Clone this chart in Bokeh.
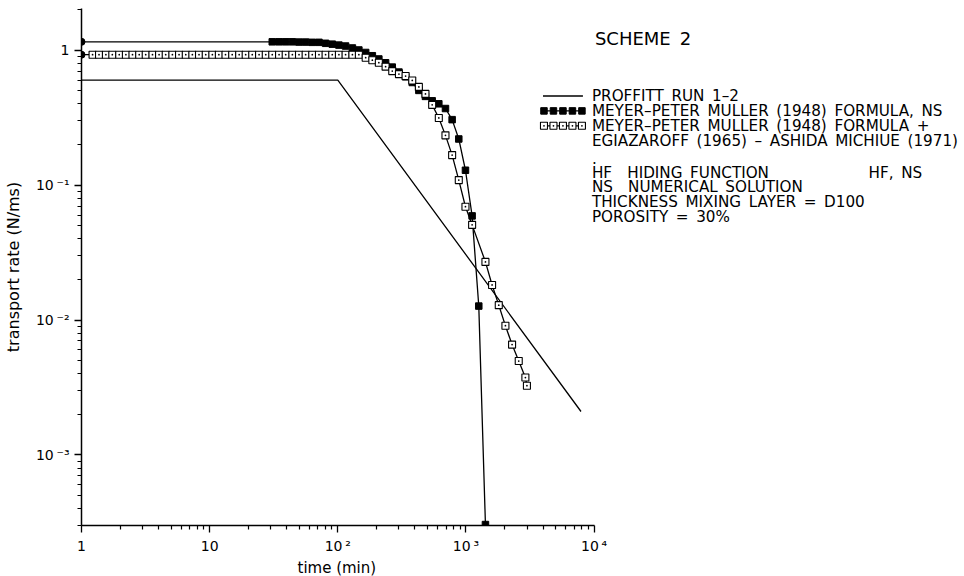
from bokeh.plotting import figure
from bokeh.models import FixedTicker, Range1d, LinearScale, Label, Title
from bokeh.embed import file_html
from bokeh.resources import INLINE

# ---------------- data ----------------
x_ticks = [1, 10, 100, 1000, 10000]
x_tick_labels = ["1", "10", "10\u2009\u00b2", "10\u2009\u00b3", "10\u2009\u2074"]
y_ticks = [0.001, 0.01, 0.1, 1]
y_tick_labels = ["10\u2009\u207b\u00b3", "10\u2009\u207b\u00b2",
                 "10\u2009\u207b\u00b9", "1"]

proffitt_time = [1, 100, 7900]
proffitt_rate = [0.60, 0.60, 0.0021]

mpm_time = [1, 30.8, 34.8, 39.2, 44.2, 49.8, 56.1, 63.2, 71.3, 80.3, 90.5,
            102, 115, 130, 146, 165, 186, 209, 236, 266, 300, 338, 381,
            429, 483, 545, 614, 692, 780, 879, 991, 1117, 1259, 1419]
mpm_rate = [1.155, 1.155, 1.155, 1.155, 1.155, 1.15, 1.15, 1.145, 1.145,
            1.126, 1.11, 1.092, 1.075, 1.04, 1.005, 0.963, 0.911, 0.862,
            0.808, 0.750, 0.689, 0.635, 0.577, 0.504, 0.455, 0.422, 0.401,
            0.370, 0.306, 0.220, 0.129, 0.0592, 0.0127, 0.000305]

hf_time = [1, 1.22, 1.37, 1.55, 1.74, 1.97, 2.22, 2.50, 2.82, 3.17, 3.58,
           4.03, 4.54, 5.12, 5.77, 6.51, 7.33, 8.26, 9.32, 10.5, 11.8, 13.3,
           15.0, 17.0, 19.1, 21.5, 24.3, 27.4, 30.8, 34.8, 39.2, 44.2, 49.8,
           56.1, 63.2, 71.3, 80.3, 90.5, 102, 115, 130, 146, 165, 186, 209,
           236, 266, 300, 338, 381, 429, 483, 545, 614, 692, 780, 879, 991,
           1117, 1419, 1599, 1803, 2032, 2290, 2581, 2909, 2990]
hf_rate = [0.927, 0.927, 0.927, 0.927, 0.927, 0.927, 0.927, 0.927, 0.927,
           0.927, 0.927, 0.927, 0.927, 0.927, 0.927, 0.927, 0.927, 0.927,
           0.927, 0.927, 0.927, 0.927, 0.927, 0.927, 0.927, 0.927, 0.927,
           0.927, 0.927, 0.927, 0.927, 0.927, 0.927, 0.927, 0.927, 0.927,
           0.927, 0.927, 0.927, 0.927, 0.927, 0.927,
           0.881, 0.844, 0.809, 0.756, 0.701, 0.666, 0.644, 0.597, 0.535,
           0.475, 0.394, 0.315, 0.234, 0.167, 0.109, 0.0692, 0.0508,
           0.0270, 0.0182, 0.0129, 0.00908, 0.00658, 0.00497, 0.00375,
           0.00326]

legend_labels = ["PROFFITT\u2002RUN\u20021\u20132",
                 "MEYER\u2013PETER\u2002MULLER\u2002(1948)\u2002FORMULA,\u2002NS",
                 "MEYER\u2013PETER\u2002MULLER\u2002(1948)\u2002FORMULA\u2002+",
                 "EGIAZAROFF\u2002(1965)\u2002\u2013\u2002ASHIDA\u2002MICHIUE\u2002(1971)"]
note_labels = [".",
               "HF\u2002\u2002HIDING\u2002FUNCTION",
               "NS\u2002\u2002NUMERICAL\u2002SOLUTION",
               "THICKNESS\u2002MIXING\u2002LAYER\u2002=\u2002D100",
               "POROSITY\u2002=\u200230%"]
title_text = "SCHEME\u20022"
hf_ns_text = "HF,\u2002NS"
x_label = "time (min)"
y_label = "transport rate (N/ms)"

FONT = "DejaVu Sans"

# ---------------- figure ----------------
# frame spans the whole width so that the legend texts are not clipped;
# the x axis itself is bounded to 1 .. 1e4 (one decade = 128.3 px)
FRAME_L, FRAME_R, FRAME_T, FRAME_B = 80, 960, 8, 528
x_end = 10 ** ((FRAME_R - FRAME_L) / 128.3)

p = figure(width=964, height=576, x_axis_type="log", y_axis_type="log",
           x_range=Range1d(1, x_end), y_range=Range1d(3.0e-4, 2.04),
           output_backend="svg", toolbar_location=None,
           min_border_left=FRAME_L, min_border_right=964 - FRAME_R,
           min_border_top=FRAME_T, min_border_bottom=576 - FRAME_B)
p.outline_line_color = None
p.grid.visible = False
p.background_fill_color = "white"
p.border_fill_color = "white"

minor_x = [m * d for d in (1, 10, 100, 1000) for m in range(2, 10)]
minor_y = [m * d for d in (0.0001, 0.001, 0.01, 0.1) for m in range(2, 10)
           if m * d > 3.0e-4] + [2]
p.xaxis.ticker = FixedTicker(ticks=x_ticks, minor_ticks=minor_x)
p.yaxis.ticker = FixedTicker(ticks=y_ticks, minor_ticks=minor_y)
p.xaxis.major_label_overrides = dict(zip(x_ticks, x_tick_labels))
p.yaxis.major_label_overrides = dict(zip(y_ticks, y_tick_labels))
p.xaxis.bounds = (1, 10000)

p.yaxis.axis_label = y_label
for ax in (p.xaxis[0], p.yaxis[0]):
    ax.axis_line_color = "black"
    ax.axis_line_width = 1.5
    ax.major_tick_line_color = "black"
    ax.minor_tick_line_color = "black"
    ax.major_tick_line_width = 1.3
    ax.minor_tick_line_width = 1.2
    ax.major_tick_out = 7
    ax.major_tick_in = 0
    ax.minor_tick_out = 4
    ax.minor_tick_in = 0
    ax.major_label_text_font = FONT
    ax.major_label_text_font_size = "14px"
    ax.major_label_text_color = "black"
    ax.major_label_standoff = 5
    ax.axis_label_text_font = FONT
    ax.axis_label_text_font_size = "16px"
    ax.axis_label_text_font_style = "normal"
    ax.axis_label_text_color = "black"
    ax.axis_label_standoff = 10

p.add_layout(Title(text=x_label, align="left", offset=216,
                   text_font=FONT, text_font_size="15px",
                   text_font_style="normal", text_color="black",
                   standoff=0), "below")

# ---------------- series ----------------
p.line(proffitt_time, proffitt_rate, line_color="black", line_width=1.3)

p.line(mpm_time, mpm_rate, line_color="black", line_width=1.3)
p.scatter(mpm_time[1:], mpm_rate[1:], marker="square", size=6.5,
          fill_color="black", line_color="black")

p.line(hf_time, hf_rate, line_color="black", line_width=1.3)
p.scatter(hf_time[1:], hf_rate[1:], marker="square_dot", size=7,
          fill_color="white", line_color="black", line_width=1.1)

p.scatter([mpm_time[0], hf_time[0]], [mpm_rate[0], hf_rate[0]],
          marker="circle", size=7, fill_color="black", line_color="black")

# ---------------- legend / notes in pixel coordinates ----------------
p.extra_x_ranges = {"px": Range1d(FRAME_L, FRAME_R)}
p.extra_y_ranges = {"px": Range1d(FRAME_B, FRAME_T)}
p.extra_x_scales = {"px": LinearScale()}
p.extra_y_scales = {"px": LinearScale()}

row_y = [96, 111, 126]
sample_x = [543, 552.5, 562, 571.5, 581]
for yy in row_y:
    p.line([542, 582], [yy, yy], x_range_name="px", y_range_name="px",
           line_color="black", line_width=1.3)
p.scatter(sample_x, [row_y[1]] * 5, x_range_name="px", y_range_name="px",
          marker="square", size=6.5, fill_color="black", line_color="black")
p.scatter(sample_x, [row_y[2]] * 5, x_range_name="px", y_range_name="px",
          marker="square_dot", size=7, fill_color="white", line_color="black",
          line_width=1.1)


def add_text(x, y, text, size="15.2px"):
    p.add_layout(Label(x=x, y=y, text=text, x_range_name="px",
                       y_range_name="px", text_font=FONT, text_font_size=size,
                       text_color="black", text_align="left",
                       text_baseline="middle"))


add_text(594, 38, title_text, "18px")
for t, yy in zip(legend_labels, [96, 111, 126, 141]):
    add_text(591, yy, t)
for t, yy in zip(note_labels, [158, 173, 188, 203, 218]):
    add_text(591, yy, t)
add_text(868, 173, hf_ns_text)

open("out.html", "w").write(file_html(p, INLINE))
